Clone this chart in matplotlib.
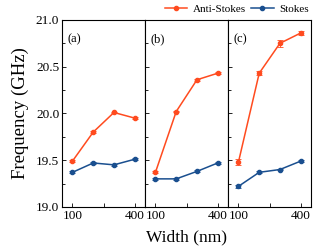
import matplotlib
matplotlib.use("Agg")
import matplotlib.pyplot as plt
from matplotlib.ticker import MultipleLocator, FixedLocator
from matplotlib.lines import Line2D

plt.rcParams['font.family'] = ['Liberation Serif', 'DejaVu Serif']
plt.rcParams['mathtext.fontset'] = 'stix'

widths = [100, 200, 300, 400]
panel_labels = ['(a)', '(b)', '(c)']
anti_stokes = [
    [19.49, 19.80, 20.01, 19.95],
    [19.37, 20.02, 20.36, 20.43],
    [19.48, 20.43, 20.75, 20.86],
]
anti_err = [
    [0.01, 0.01, 0.01, 0.01],
    [0.01, 0.01, 0.01, 0.01],
    [0.03, 0.02, 0.04, 0.02],
]
stokes = [
    [19.37, 19.47, 19.45, 19.51],
    [19.30, 19.30, 19.38, 19.47],
    [19.22, 19.37, 19.40, 19.49],
]
stokes_err = [
    [0.01, 0.01, 0.01, 0.01],
    [0.01, 0.01, 0.01, 0.01],
    [0.015, 0.01, 0.01, 0.01],
]
c_anti = '#FF4B1F'
c_stokes = '#1A4F8F'

fig = plt.figure(figsize=(3.32, 2.49), dpi=100)
left, right, top, bottom = 0.187, 0.937, 0.920, 0.169
w = (right - left) / 3
axes = []
for i in range(3):
    ax = fig.add_axes([left + i * w, bottom, w, top - bottom])
    axes.append(ax)
    ax.errorbar(widths, anti_stokes[i], yerr=anti_err[i], color=c_anti, marker='o',
                ms=3, lw=1.1, capsize=2, elinewidth=0.6, capthick=0.6)
    ax.errorbar(widths, stokes[i], yerr=stokes_err[i], color=c_stokes, marker='o',
                ms=3, lw=1.1, capsize=2, elinewidth=0.6, capthick=0.6)
    ax.set_xlim(50, 450)
    ax.set_ylim(19.0, 21.0)
    ax.xaxis.set_major_locator(FixedLocator([100, 250, 400]))
    ax.set_xticklabels(['100', '', '400'])
    ax.yaxis.set_major_locator(MultipleLocator(0.5))
    ax.yaxis.set_minor_locator(MultipleLocator(0.25))
    ax.tick_params(axis='both', which='major', direction='in', length=3, width=0.6, labelsize=9.5, pad=2)
    ax.tick_params(axis='y', which='minor', direction='in', length=2, width=0.6)
    if i > 0:
        ax.tick_params(axis='y', labelleft=False)
    for s in ax.spines.values():
        s.set_linewidth(0.8)
    ax.text(0.06, 0.93, panel_labels[i], transform=ax.transAxes, fontsize=9, va='top', ha='left')

axes[0].set_ylabel('Frequency (GHz)', fontsize=13.5, labelpad=5)
fig.text((left + right) / 2, 0.015, 'Width (nm)', ha='center', va='bottom', fontsize=12.5)
handles = [Line2D([], [], color=c_anti, marker='o', ms=3, lw=1.1),
           Line2D([], [], color=c_stokes, marker='o', ms=3, lw=1.1)]
labels = ['Anti-Stokes', 'Stokes']
fig.legend(handles, labels, loc='upper right', bbox_to_anchor=(0.94, 0.995), ncol=2, frameon=False,
           fontsize=8, handlelength=2.0, columnspacing=0.5, handletextpad=0.5,
           borderaxespad=0.1, borderpad=0.2)
fig.savefig('out.png', dpi=100)
